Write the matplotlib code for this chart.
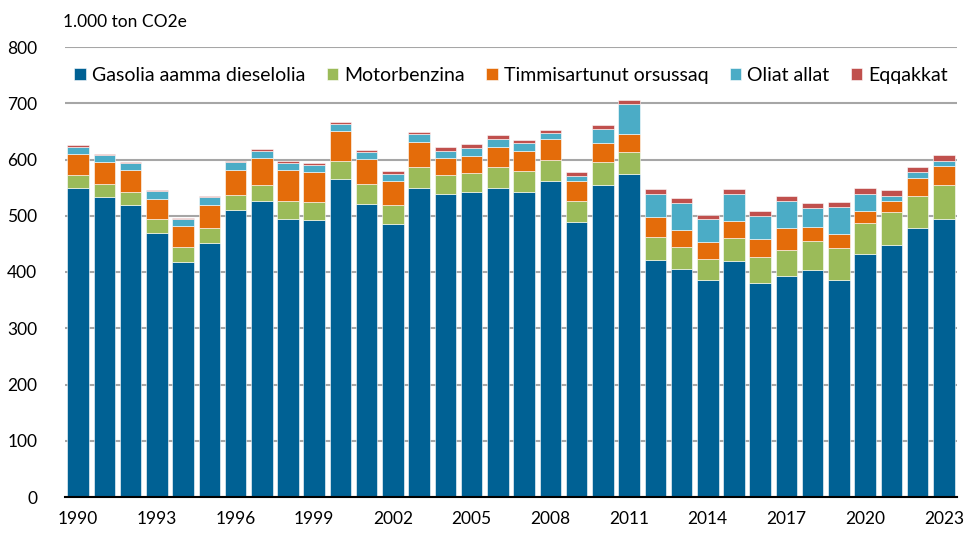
import matplotlib.pyplot as plt
import numpy as np

plt.rcParams['font.family'] = ['Lato', 'DejaVu Sans']

years = list(range(1990, 2024))

# cumulative tops (1.000 ton CO2e)
top_diesel = [549, 533, 520, 469, 418, 451, 511, 527, 495, 493, 565, 521, 486, 550, 539, 543, 550,
              543, 562, 489, 555, 575, 422, 406, 385, 419, 380, 393, 404, 386, 432, 448, 478, 494]
top_motor = [572, 556, 543, 494, 445, 478, 537, 555, 526, 524, 598, 556, 519, 587, 572, 576, 587,
             579, 599, 526, 595, 614, 462, 445, 424, 460, 427, 440, 455, 442, 488, 506, 535, 554]
top_ors = [610, 595, 581, 530, 481, 519, 582, 602, 581, 578, 651, 601, 562, 632, 603, 607, 623,
           616, 637, 561, 629, 646, 498, 474, 453, 490, 458, 479, 480, 468, 508, 527, 568, 589]
top_oliat = [623, 608, 594, 544, 494, 533, 595, 615, 594, 591, 664, 613, 575, 645, 616, 620, 637,
             629, 647, 570, 654, 699, 539, 523, 494, 539, 500, 526, 514, 516, 539, 536, 577, 598]
top_total = [626, 610, 596, 546, 496, 535, 598, 618, 597, 594, 667, 617, 579, 649, 622, 627, 643,
             635, 653, 577, 661, 705, 547, 531, 502, 547, 508, 535, 523, 524, 549, 545, 587, 608]

diesel = np.array(top_diesel)
motor = np.array(top_motor) - np.array(top_diesel)
ors = np.array(top_ors) - np.array(top_motor)
oliat = np.array(top_oliat) - np.array(top_ors)
eqq = np.array(top_total) - np.array(top_oliat)

labels = ['Gasolia aamma dieselolia', 'Motorbenzina', 'Timmisartunut orsussaq', 'Oliat allat', 'Eqqakkat']
colors = ['#006194', '#9BBB59', '#E46C0A', '#4BACC6', '#C0504D']

fig = plt.figure(figsize=(9.67, 5.34), dpi=100)
ax = fig.add_axes([65 / 967, 1 - 497 / 534, (957 - 65) / 967, 450 / 534])

x = np.arange(len(years))
bottom = np.zeros(len(years))
for vals, lab, col in zip([diesel, motor, ors, oliat, eqq], labels, colors):
    ax.bar(x, vals, 0.82, bottom=bottom, color=col, label=lab,
           edgecolor='white', linewidth=0.4, zorder=3)
    bottom += vals

ax.set_xlim(-0.5, len(years) - 0.5)
ax.set_ylim(0, 800)
ax.set_yticks(range(0, 801, 100))
ax.yaxis.grid(True, color='#A6A6A6', linewidth=1.5, zorder=0)
ax.set_axisbelow(True)
ax.set_xticks(x[::3])
ax.set_xticklabels([str(y) for y in years[::3]])
ax.tick_params(axis='both', length=0, labelsize=12.5, colors='black')
ax.tick_params(axis='y', pad=20)
ax.tick_params(axis='x', pad=10)
for s in ['top', 'right', 'left']:
    ax.spines[s].set_visible(False)
ax.spines['bottom'].set_color('black')
ax.spines['bottom'].set_linewidth(1.5)
ax.spines['bottom'].set_zorder(4)

fig.text(63 / 967, 1 - 22 / 534, '1.000 ton CO2e', fontsize=12.5, va='center', ha='left')

ax.legend(loc='upper center', bbox_to_anchor=(0.5, 0.995), ncol=5, frameon=False,
          fontsize=14, handlelength=0.6, handleheight=0.6, handletextpad=0.3,
          columnspacing=1.1)

fig.savefig('out.png', dpi=100)
